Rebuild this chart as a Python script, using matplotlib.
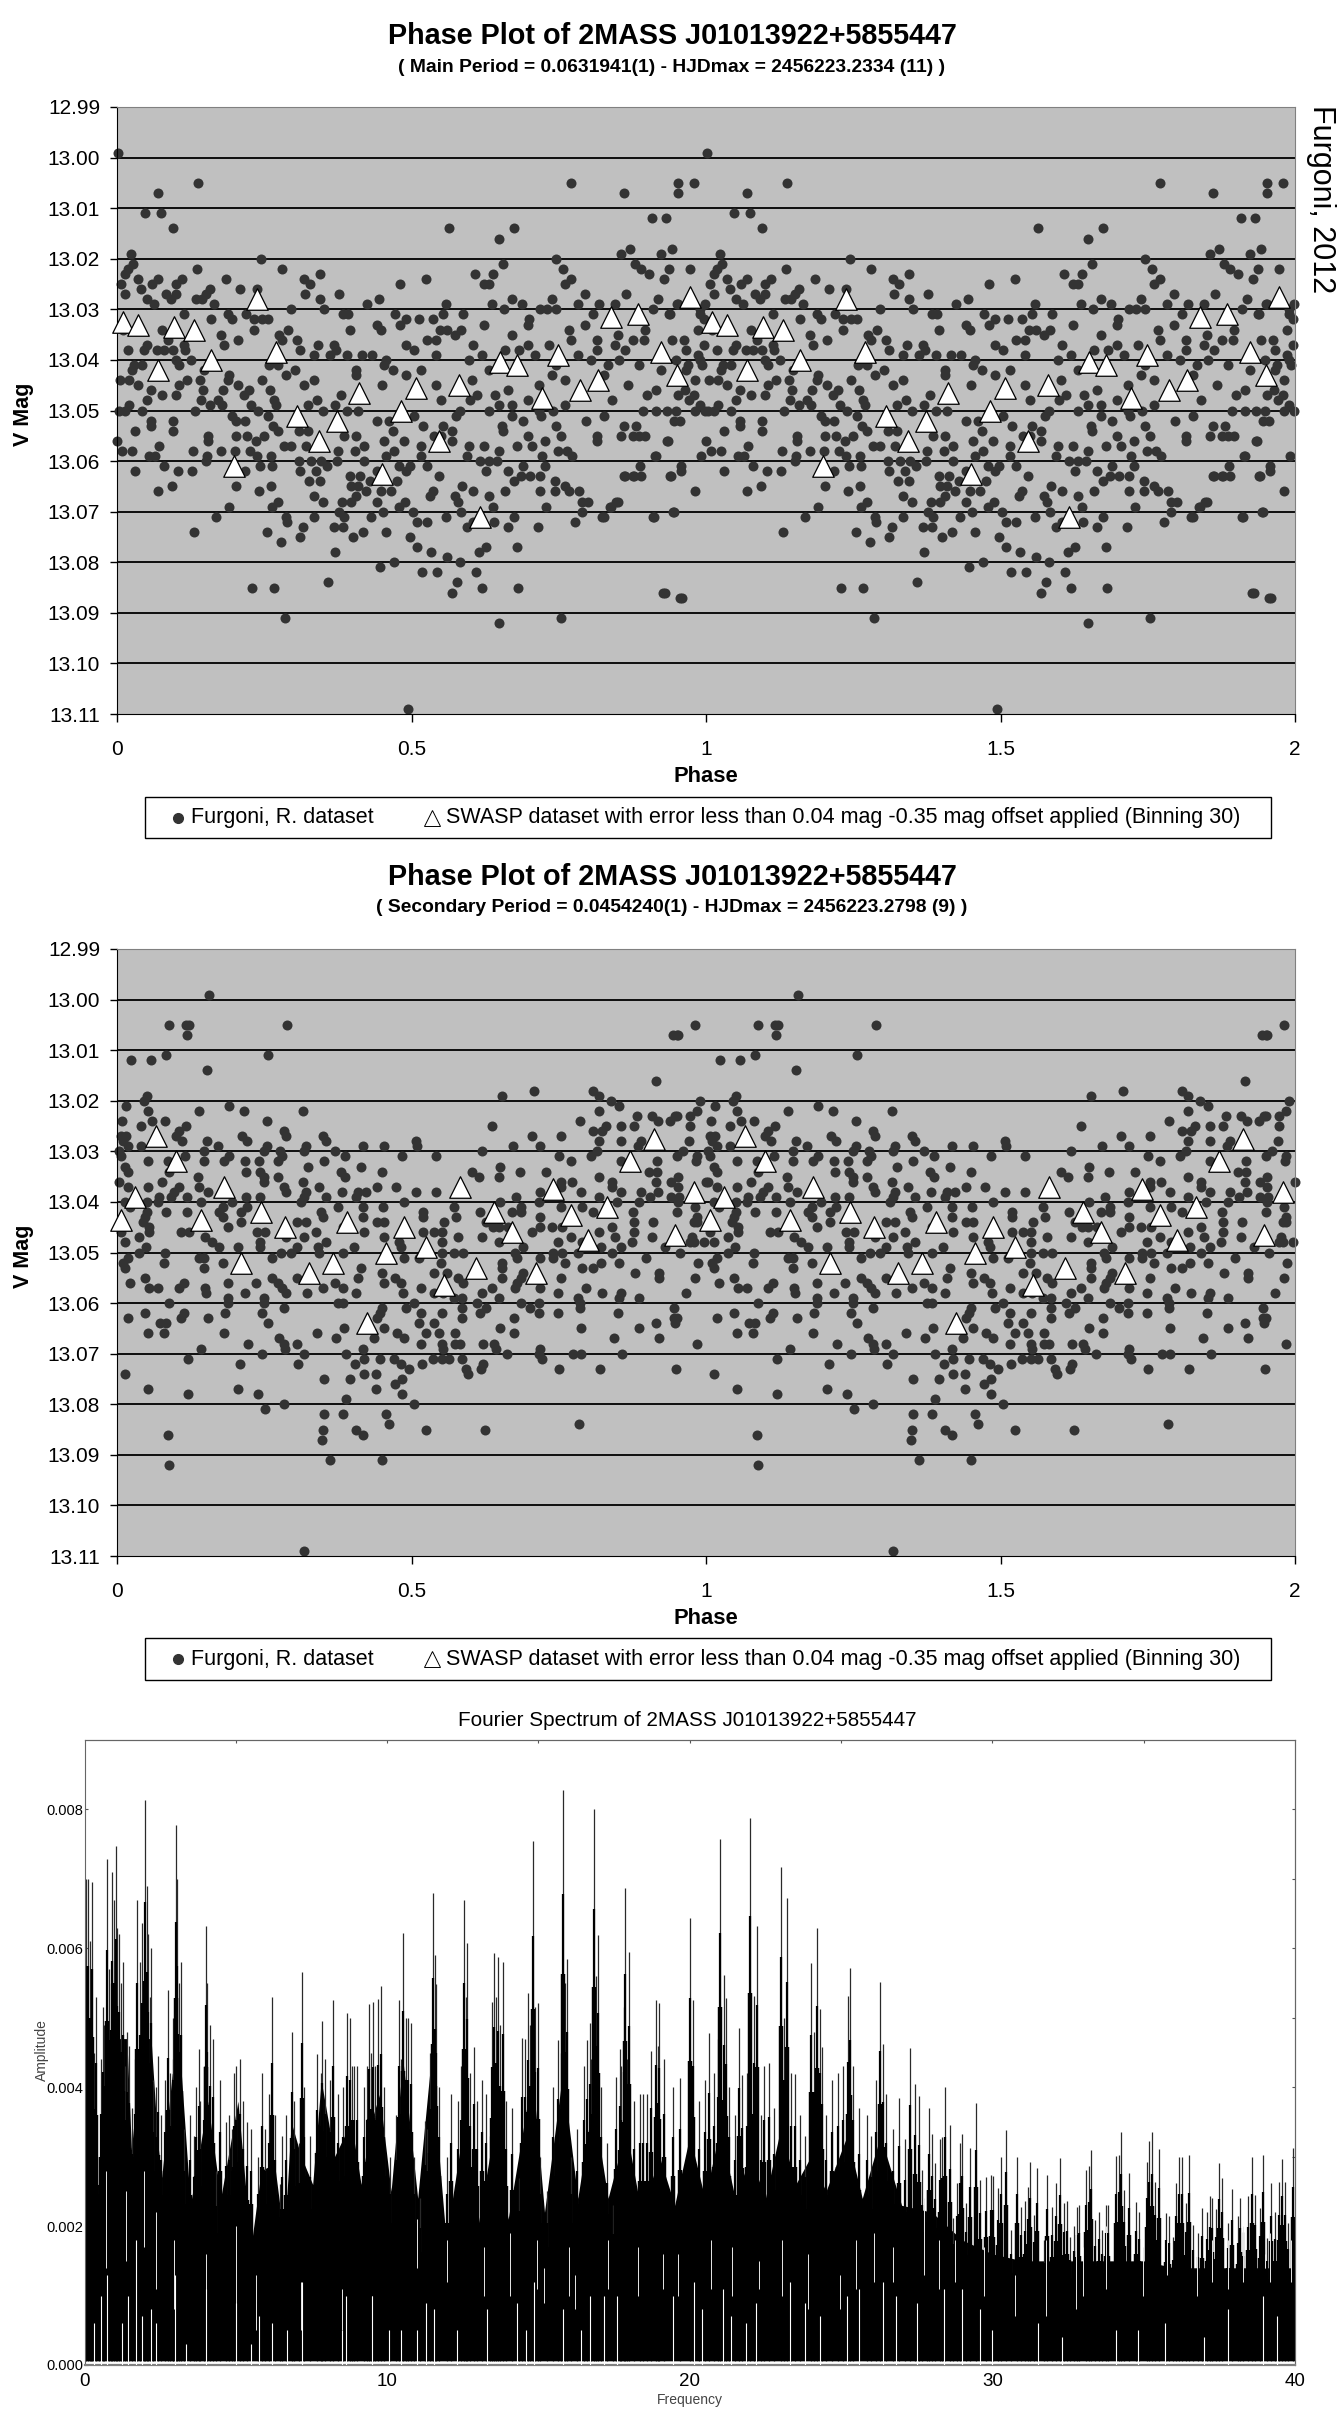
import matplotlib
matplotlib.use("Agg")
import matplotlib.pyplot as plt
import numpy as np
from matplotlib.lines import Line2D
from matplotlib.patches import Rectangle

SANS = ['Liberation Sans', 'DejaVu Sans']
plt.rcParams['font.family'] = SANS

# ---------- main-period phase plot: magnitude levels and the phases seen at each ----------
main_levels = [12.999,13.005,13.007,13.011,13.012,13.014,13.016,13.018,13.019,13.020,13.021,13.022,13.023,13.024,13.025,13.026,13.027,13.028,13.029,13.030,13.031,13.032,13.033,13.034,13.035,13.036,13.037,13.038,13.039,13.040,13.041,13.042,13.043,13.044,13.045,13.046,13.047,13.048,13.049,13.050,13.051,13.052,13.053,13.054,13.055,13.056,13.057,13.058,13.059,13.060,13.061,13.062,13.063,13.064,13.065,13.066,13.067,13.068,13.069,13.070,13.071,13.072,13.073,13.074,13.075,13.076,13.077,13.078,13.079,13.080,13.081,13.082,13.084,13.085,13.086,13.087,13.091,13.092,13.109]
main_phases = [
[.002],
[.137,.770,.953,.979],
[.070,.860,.952],
[.047,.075],
[.908,.932],
[.095,.564,.674],
[.649],
[.871,.942],
[.023,.855,.923],
[.244,.745],
[.027,.655,.880],
[.018,.135,.280,.758,.937,.889,.973],
[.013,.345,.607,.639,.904],
[.036,.070,.111,.185,.317,.525,.770,.928],
[.006,.060,.100,.328,.481,.623,.632,.761],
[.041,.158,.208,.237],
[.013,.083,.100,.151,.319,.377,.794,.865],
[.051,.092,.134,.145,.345,.671,.445,.738,.919],
[.063,.164,.425,.559,.636,.687,.782,.818,.845,.952,.950,.999],
[.295,.352,.657,.719,.730,.745,.910,.990],
[.188,.219,.383,.392,.472,.553,.588,.113,.808,.939,.938,.990],
[.196,.232,.247,.256,.513,.490,.536,.160,.700,.997],
[.441,.481,.623,.795,.697],
[.010,.077,.233,.291,.396,.448,.549,.560,.584,.767,.897,.987],
[.176,.275,.574,.671,.850],
[.087,.205,.280,.305,.527,.542,.771,.815,.876,.894,.942,.962],
[.051,.114,.181,.341,.369,.490,.605,.698,.734,.845,.997],
[.019,.046,.068,.080,.095,.116,.310,.504,.659,.683,.815,.863,.372,.966],
[.334,.361,.391,.416,.433,.541,.620,.782,.710,.987],
[.125,.101,.597,.457,.804,.852,.949,.990],
[.029,.042,.106,.258,.273,.453,.745,.887,.834,.970,.993],
[.026,.147,.302,.405,.468,.631,.516,.923,.966],
[.191,.287,.405,.490,.738,.826],
[.005,.021,.119,.141,.246,.188,.335,.603,.760,.982],
[.205,.035,.106,.317,.450,.542,.716,.867],
[.058,.146,.180,.224,.259,.664,.915,.964],
[.077,.101,.216,.380,.642,.900,.612,.952,.979],
[.051,.143,.171,.267,.339,.550,.600,.697,.841,.971],
[.020,.158,.178,.228,.270,.324,.370,.649,.671,.760,.990],
[.003,.014,.042,.132,.239,.350,.391,.409,.583,.631,.716,.741,.893,.915,.933,.982,.999,.949],
[.195,.256,.505,.575,.671,.720,.826],
[.057,.095,.202,.217,.442,.461,.690,.797,.945,.956],
[.058,.265,.520,.553,.653,.745,.860,.882],
[.031,.095,.273,.309,.324,.468,.568,.656],
[.154,.202,.221,.250,.386,.405,.538,.550,.697,.753,.815,.856,.897,.876,.886],
[0.,.154,.236,.343,.453,.487,.568,.727,.815,.936,.934],
[.072,.284,.295,.321,.516,.623,.597,.679,.705,.420],
[.009,.025,.129,.177,.201,.225,.376,.404,.471,.649,.749,.764],
[.055,.064,.153,.237,.261,.457,.516,.594,.721,.773,.915,.913,.992],
[.151,.309,.329,.346,.374,.420,.616,.645,.631],
[.080,.243,.264,.357,.479,.498,.527,.690,.727,.888,.958],
[.030,.103,.127,.217,.311,.338,.441,.490,.627,.664,.958],
[.396,.413,.450,.546,.686,.702,.719,.863,.878,.941,.889,.861,.876,.939],
[.326,.345,.429,.476,.674,.743],
[.093,.202,.261,.398,.409,.586,.760],
[.069,.241,.422,.448,.466,.536,.605,.658,.718,.743,.785,.767,.981],
[.335,.405,.531,.574,.631],
[.273,.350,.382,.398,.441,.489,.579,.790,.800,.850,.847],
[.190,.264,.479,.638,.729,.838,.837],
[.377,.451,.503,.584,.790,.945,.944],
[.168,.287,.335,.386,.431,.558,.674,.826,.911,.823,.910],
[.289,.509,.527,.605,.640,.777],
[.315,.369,.383,.594,.664,.714],
[.130,.254,.417,.456],
[.311,.400,.498],
[.278],
[.510,.626,.679],
[.370,.533,.614],
[.560],
[.470,.583],
[.446],
[.518,.544,.610],
[.358,.578],
[.230,.267,.620,.681],
[.568,.930,.927],
[.956,.959],
[.286,.753],
[.649],
[.494],
]
swasp_main_phase = [.010,.035,.097,.130,.070,.160,.237,.270,.306,.374,.411,.483,.507,.580,.651,.679,.721,.749,.786,.817,.839,.884,.924,.951,.973,.343,.450,.547,.199,.617]
swasp_main_mag = [13.0325,13.033,13.0335,13.034,13.042,13.040,13.028,13.0385,13.051,13.052,13.0465,13.050,13.0455,13.045,13.0405,13.041,13.0475,13.039,13.046,13.044,13.0315,13.031,13.0385,13.043,13.0275,13.056,13.0625,13.056,13.061,13.071]

# ---------- secondary-period phase plot ----------
sec_levels = [12.999,13.005,13.007,13.011,13.012,13.014,13.016,13.018,13.019,13.020,13.021,13.022,13.023,13.024,13.025,13.026,13.027,13.028,13.029,13.030,13.031,13.032,13.033,13.034,13.035,13.036,13.037,13.038,13.039,13.040,13.041,13.042,13.043,13.044,13.045,13.046,13.047,13.048,13.049,13.050,13.051,13.052,13.053,13.054,13.055,13.056,13.057,13.058,13.059,13.060,13.061,13.062,13.063,13.064,13.065,13.066,13.067,13.068,13.069,13.070,13.071,13.072,13.073,13.074,13.075,13.076,13.077,13.078,13.079,13.080,13.081,13.082,13.084,13.085,13.086,13.087,13.091,13.092,13.109]
sec_phases = [
[.157],
[.089,.117,.123,.288,.982],
[.118,.952,.944,.950],
[.084,.256],
[.023,.057],
[.153],
[.915],
[.708,.808],
[.654,.819,.051],
[.046,.838,.990],
[.016,.190,.852],
[.140,.216,.315,.052,.819,.984],
[.883,.908,.951,.973,.947],
[.009,.060,.082,.254,.786,.919,.939],
[.040,.117,.637,.830,.855,.877,.973],
[.106,.284,.808,.823],
[.007,.016,.101,.213,.350,.287,.705,.753],
[.010,.110,.153,.221,.355,.507,.819,.855,.889,.971],
[.018,.040,.171,.254,.321,.418,.453,.509,.673,.719,.884],
[.003,.148,.250,.317,.276,.370,.620,.815,.961],
[.007,.116,.191,.280,.387,.484,.542,.751,.804,.951,.984],
[.053,.086,.148,.182,.217,.241,.274,.352,.771,.855,.917,.983],
[.014,.324,.414,.651],
[.018,.088,.219,.243,.380,.450,.603,.684,.729,.904,.917],
[.137,.250,.273,.387,.615,.649,.819,.953],
[.004,.077,.249,.315,.841,.915,.941,.753,.773,1.0],
[.019,.053,.106,.140,.284,.343,.442,.473,.753,.841,.952],
[.154,.097,.287,.321,.382,.409,.422,.507,.541,.719,.788,.856,.889,.919],
[.072,.119,.092,.219,.243,.317,.354,.678,.819,.905,.941,.405,.954],
[.014,.051,.196,.143,.313,.069,.487,.651,.716,.849,.886,.952],
[.022,.180,.221,.376,.417,.451,.572,.686,.753,.790,.981],
[.051,.084,.119,.173,.210,.346,.520,.616,.671,.686,.808,.876,.951],
[.047,.180,.350,.418,.520,.575,.719,.984],
[.044,.210,.306,.321,.442,.453,.555,.626,.878,.910,.984,.979],
[.055,.188,.383,.638,.649,.841,.664,.719,.738,.756],
[.007,.055,.108,.123,.237,.252,.338,.420,.520,.538,.552,.705,.819,.878],
[.038,.150,.287,.317,.453,.579,.620,.771,.845,.908,.976],
[.013,.162,.243,.355,.479,.552,.649,.749,.790,.874,.979,.996,.973],
[.049,.173,.206,.243,.341,.402,.306,.483,.690,.821,.856,.930],
[.038,.082,.278,.296,.343,.383,.572,.588,.552,.675,.741,.756,.782,.841,.956],
[.018,.140,.147,.263,.487,.513,.719,.741,.679,.898],
[.010,.080,.180,.550,.653,.821,.760,.852,.986],
[.014,.147,.414,.653,.790,.808],
[.450,.538,.560,.690,.880,.920],
[.047,.263,.306,.409,.472,.579,.653,.686,.753,.921,.981],
[.022,.114,.188,.236,.273,.370,.453,.483,.588,.679],
[.055,.069,.106,.150,.280,.350,.383,.516,.637,.676,.719,.797],
[.151,.217,.287,.323,.405,.485,.538,.553,.823,.966,.856,.620,.749],
[.188,.250,.573,.586,.649,.782,.886,.852],
[.089,.188,.250,.376,.383,.505,.612,.686,.716,.786],
[.284,.450,.490,.627,.701,.786,.945,.586],
[.047,.114,.184,.247,.446,.516,.552,.616,.716,.749,.851],
[.019,.108,.154,.442,.585,.674,.945,.950],
[.073,.084,.256,.513,.538,.915,.947],
[.386,.453,.651,.787,.886],
[.052,.080,.181,.339,.476,.524,.546,.574,.674],
[.275,.372,.436,.487,.843,.921],
[.222,.284,.306,.516,.552,.574,.583,.621,.640,.985],
[.142,.285,.553,.417,.719,.643],
[.247,.317,.388,.662,.716,.775,.788,.857],
[.120,.420,.446,.470,.537,.552,.563,.586,.721],
[.208,.308,.404,.483,.518,.621],
[.496,.592,.618,.751,.820,.949],
[.014,.419,.439,.596],
[.352,.396,.484],
[.472],
[.053,.205,.440],
[.121,.239,.484],
[.388],
[.283,.505],
[.251],
[.352,.383,.457],
[.462,.784],
[.349,.405,.525,.625],
[.086,.418],
[.348],
[.361,.450],
[.088],
[.317],
]
swasp_sec_phase = [.006,.030,.066,.100,.143,.181,.210,.245,.285,.326,.367,.391,.424,.457,.488,.524,.555,.583,.609,.640,.671,.711,.741,.771,.799,.832,.871,.911,.947,.979]
swasp_sec_mag = [13.0436,13.039,13.027,13.032,13.0435,13.037,13.052,13.042,13.045,13.054,13.052,13.044,13.064,13.050,13.045,13.049,13.0565,13.037,13.053,13.042,13.046,13.054,13.0375,13.0425,13.0475,13.041,13.032,13.0275,13.0465,13.038]

# ---------- Fourier spectrum ----------
peak_freq = [.06,.11,.26,.19,.39,.6,.73,.82,.92,1.03,1.15,1.26,1.4,1.75,1.89,2.0,2.11,2.21,2.42,2.75,2.91,3.01,3.2,3.77,4.02,4.16,4.49,4.76,5.02,5.15,5.5,5.87,6.21,6.53,6.86,7.2,7.67,7.86,8.22,8.69,8.78,8.9,9.41,9.54,9.7,9.8,10.4,10.54,10.69,10.8,11.26,11.52,11.62,12.54,12.64,12.87,13.13,13.46,13.54,13.66,13.82,14.46,14.66,14.82,14.9,14.98,15.64,15.82,15.95,16.6,16.69,16.83,16.97,17.85,17.99,17.82,18.87,19.0,19.67,18.72,17.57,17.69,18.44,
20.0,20.1,20.65,21.0,21.12,21.21,21.64,21.73,22.0,22.12,22.22,22.62,23.0,23.23,23.49,24.01,24.22,24.3,24.38,25.22,25.29,26.3,26.37,26.92]
peak_amp = [.0070,.0070,.00695,.0061,.0053,.00515,.00728,.0057,.0071,.00748,.0062,.0058,.0048,.0067,.00636,.00813,.0062,.006,.00445,.0054,.005,.00778,.0058,.00455,.00632,.0049,.0041,.0036,.0043,.0044,.0034,.0042,.0053,.0033,.0048,.00566,.00448,.00496,.00525,.00507,.005,.0043,.0052,.00523,.00527,.00546,.00525,.00622,.005,.00493,.00352,.0068,.00548,.0067,.00607,.00458,.0041,.00523,.00593,.00587,.00581,.00471,.00536,.00754,.00515,.00521,.00468,.00828,.00584,.00468,.00493,.008,.00619,.00687,.00595,.00515,.00526,.00521,.00414,.00452,.00415,.00455,.0039,
.00644,.00525,.00478,.00758,.00562,.00528,.00486,.00417,.00788,.00531,.00632,.00435,.00717,.00673,.00419,.00579,.0063,.00513,.00458,.00532,.00571,.00552,.00462,.00385]
mid_freq = [.22,.33,.47,.53,.65,.88,.98,1.09,1.22,1.35,1.46,1.58,1.68,1.82,1.95,2.05,2.15,2.27,2.37,2.54,2.67,2.83,2.94,3.07,3.13,3.3,3.49,3.62,3.7,3.83,3.95,4.06,4.23,4.33,4.66,4.88,4.95,5.24,5.38,5.74,5.95,6.1,6.31,6.46,6.67,6.93,7.1,7.25,7.46,7.82,7.96,8.11,8.39,8.54,8.85,9.0,9.23,9.33,9.47,9.61,9.9,10.11,10.29,10.47,10.62,10.9,11.09,11.33,11.43,11.59,11.72,11.98,12.12,12.34,12.44,12.6,12.74,12.98,13.27,13.41,13.6,13.73,13.92,14.13,14.35,14.56,14.73,15.06,15.28,15.49,15.74,15.88,16.07,16.26,16.5,16.74,16.89,17.07,17.26,17.46,17.72,17.93,18.15,18.36,18.58,18.94,19.15,19.44,
20.3,20.5,20.8,20.95,21.3,21.5,21.9,22.35,22.45,22.8,23.1,23.35,23.65,23.8,24.1,24.5,24.7,24.9,25.05,25.4,25.6,25.85,26.0,26.15,26.5,26.7]
mid_amp = [.0052,.0045,.003,.0044,.0049,.0055,.0067,.0063,.0055,.0043,.0046,.0037,.0044,.0058,.0055,.0069,.0053,.0041,.004,.0036,.0041,.0042,.0044,.007,.0055,.0034,.0036,.0033,.004,.0038,.0043,.0055,.0047,.0028,.0035,.0034,.0042,.0038,.0035,.003,.0034,.0039,.0036,.0026,.0036,.0038,.0032,.004,.0033,.0042,.0044,.0041,.0039,.004,.0043,.0043,.004,.0043,.0045,.0043,.004,.003,.0036,.0044,.005,.003,.0024,.0034,.0045,.0059,.004,.003,.0039,.0038,.0043,.0053,.0042,.0038,.0039,.0033,.0053,.0049,.0038,.0037,.0027,.0047,.0049,.003,.0025,.004,.0045,.0055,.003,.0034,.0043,.0044,.0056,.004,.0032,.0023,.0043,.0044,.0038,.0039,.0039,.0046,.0044,.004,
.0038,.0041,.0042,.0047,.004,.0036,.0042,.0036,.0043,.0037,.005,.0042,.0036,.0033,.0048,.0036,.0041,.0042,.0043,.0043,.0037,.0036,.0033,.0041,.0039,.0034]
fine_freq = [27.12,27.28,27.45,27.59,27.67,27.83,27.91,28.01,28.11,28.27,28.35,28.45,28.6,28.71,28.82,28.92,29.0,29.13,29.27,29.45,29.6,29.79,29.95,30.01,30.17,30.28,30.46,30.62,30.8,30.94,31.09,31.17,31.25,31.38,31.47,31.69,31.81,31.97,32.09,32.25,32.37,32.48,32.58,32.71,32.79,32.87,33.08,33.19,33.25,33.39,33.51,33.61,33.74,33.83,34.09,34.19,34.24,34.35,34.5,34.73,34.85,35.1,35.18,35.26,35.37,35.5,35.74,35.85,35.98,36.08,36.18,36.27,36.4,36.51,36.64,36.81,36.92,37.1,37.19,37.27,37.39,37.49,37.59,37.8,37.93,38.1,38.19,38.29,38.46,38.57,38.68,38.83,38.94,39.06,39.2,39.34,39.46,39.58,39.67,39.78,39.95]
fine_amp = [.00325,.00457,.00404,.00387,.00281,.00252,.0037,.00332,.00291,.00325,.00329,.00401,.00345,.00212,.00262,.0032,.00332,.00233,.00313,.00377,.00267,.00271,.00273,.00272,.00255,.003,.00339,.00195,.003,.00228,.00236,.00257,.00293,.00216,.00284,.0018,.00274,.00228,.00262,.00298,.00233,.00236,.00185,.002,.00228,.00231,.00281,.00286,.00309,.00209,.00221,.00195,.00231,.00231,.00301,.00303,.00336,.00252,.00276,.00235,.00221,.00293,.00322,.00336,.00264,.00311,.00219,.00214,.00185,.00262,.003,.003,.00233,.00302,.00202,.0019,.00226,.00221,.00243,.0024,.00224,.00291,.00269,.00205,.00254,.00214,.0024,.00192,.00243,.003,.00245,.00226,.00303,.00183,.00262,.00221,.00264,.00296,.00263,.00204,.00313]
body_freq = [0,.2,.35,.55,.9,1.4,1.55,1.9,2.2,2.42,2.55,2.9,3.2,3.5,4.07,4.5,5.07,5.5,5.84,6.28,6.6,6.83,7.16,7.54,7.82,8.26,8.81,9.14,9.47,9.75,10.13,10.52,11.01,11.45,11.95,12.44,13,13.5,14,14.8,15.2,15.8,16.3,16.8,17.3,17.9,18.4,19,19.5,20,20.5,21,21.5,22,22.5,23,23.5,24,24.5,25.2,25.7,26.3,27,28,29,30,31,32,33,34,35,36,37,38,39,40]
body_top = [.0055,.0047,.0026,.0026,.0047,.0047,.0031,.0047,.0047,.0032,.0027,.0042,.0042,.0023,.0038,.0024,.0038,.0017,.0028,.0029,.0018,.0035,.003,.0026,.0041,.003,.0035,.0026,.0035,.0039,.0025,.0044,.0024,.0044,.0018,.0032,.0020,.0033,.0021,.0042,.0022,.0042,.0024,.0038,.0024,.0034,.0022,.0030,.0023,.0033,.0024,.0034,.0024,.0030,.0024,.0034,.0026,.0030,.0025,.0033,.0024,.0033,.0023,.0022,.0018,.0016,.0015,.0015,.0015,.0015,.0015,.0014,.0014,.0014,.0014,.0014]
gap_freq = [.3,.55,.75,1.25,1.45,1.7,1.9,2.2,2.35,3.0,3.35,4.0,5.0,5.5,5.75,6.2,6.7,7.2,8.5,8.65,9.5,10.05,10.45,11.0,11.3,11.55,12.3,13.3,14.3,14.85,14.6,15.8,16.4,16.7,17.15,17.6,19.45,20.15,20.4,21.1,21.35,21.85,22.2,23.3,23.8,24.3,25.6,25.2,26.4,26.8,27.5,28.4,29.0,29.6,30.0,31.5,32.3,34.1,34.8,35.7,37.0,37.8,38.95,39.4]
gap_amp = [.0006,.001,.0013,.0006,.001,.0018,.0007,.0008,.0006,.0013,.0003,.0011,.0009,.0003,.0007,.0006,.0005,.0012,.0005,.001,.001,.0005,.0005,.0005,.0009,.0008,.0005,.0008,.0009,.0012,.0005,.0008,.0005,.001,.001,.001,.001,.0012,.0008,.0011,.0007,.0006,.0009,.0012,.0009,.0007,.0011,.001,.0012,.001,.0009,.0011,.0011,.0008,.0005,.0006,.0004,.0005,.0005,.0006,.0004,.0008,.001,.0007]
slit_freq = [.72,1.38,1.98,2.37,2.97,4.0,4.99,5.67,7.16,8.5,9.49,10.99,11.98,13.2,14.05,14.95,15.2,16.0,16.2,17.3,18.3,19.1,19.6,20.7,21.4,22.3,23.05,23.9,24.95,25.5,26.1,26.7,27.74,28.22,28.75,29.73,30.75,31.77,32.77,33.0,33.76,34.99,35.76,36.75,37.25,37.78,38.29,39.0,39.17,39.86]
slit_low = [.0014,.0015,.0017,.0011,.0008,.0007,.0005,.0005,.0005,.0005,.0005,.0014,.0012,.001,.001,.0011,.0009,.001,.0008,.0011,.001,.0011,.001,.0011,.001,.0011,.001,.0008,.0008,.0011,.0012,.0012,.0013,.0011,.0012,.001,.0007,.0007,.0008,.001,.0011,.001,.0013,.001,.0012,.0011,.0012,.0014,.0012,.0012]
slit_high = [.0028,.0025,.0028,.0022,.0018,.0016,.002,.0013,.0012,.0011,.001,.0021,.0018,.0017,.0019,.0018,.0014,.0017,.0013,.0018,.0017,.0016,.0016,.0018,.0017,.0015,.0018,.0016,.0013,.0018,.0019,.0017,.0024,.0018,.0018,.0017,.0013,.0018,.0019,.0017,.002,.0017,.0018,.0017,.0018,.0018,.002,.0016,.0019,.0018]

mag_ticks = [12.99 + 0.01 * i for i in range(13)]
phase_ticks = [0, 0.5, 1, 1.5, 2]
freq_labels = [0, 10, 20, 30, 40]
freq_top = [5, 10, 15, 20, 25, 30, 35]
amp_labels = [0, .002, .004, .006, .008]
amp_right = [.001, .002, .003, .004, .005, .006, .007, .008]

W, H = 1344, 2421
fig = plt.figure(figsize=(W / 100, H / 100), dpi=100, facecolor='white')


def rect(l, t, r, b):
    return [l / W, 1 - b / H, (r - l) / W, (b - t) / H]


def ftext(x, y, s, **kw):
    kw.setdefault('ha', 'center')
    kw.setdefault('va', 'center')
    fig.text(x / W, 1 - y / H, s, **kw)


def flatten(levels, phases):
    p = np.concatenate([np.array(r, float) for r in phases])
    m = np.concatenate([np.full(len(r), l) for l, r in zip(levels, phases)])
    return np.r_[p, p + 1], np.r_[m, m]


def phase_axes(top, bottom, levels, phases, sw_p, sw_m, sub, title_y, sub_y, leg_top, leg_bottom, right_note):
    ax = fig.add_axes(rect(117, top, 1295, bottom), facecolor='#C0C0C0')
    ax.set_xlim(0, 2)
    ax.set_ylim(13.11, 12.99)
    ax.set_yticks(mag_ticks)
    ax.set_yticklabels([f'{v:.2f}' for v in mag_ticks], fontsize=15)
    ax.set_xticks(phase_ticks)
    ax.set_xticklabels(['0', '0.5', '1', '1.5', '2'], fontsize=15)
    ax.tick_params(axis='y', length=4.7, width=1, pad=7.5)
    ax.tick_params(axis='x', length=5.8, width=1, pad=13)
    for v in mag_ticks[1:-1]:
        ax.axhline(v, color='black', lw=1.3, zorder=1)
    for s in ['top', 'right']:
        ax.spines[s].set_color('#808080')
    for s in ['left', 'bottom']:
        ax.spines[s].set_color('black')
    px, pm = flatten(levels, phases)
    ax.scatter(px, pm, s=52, color='#333333', linewidths=0, zorder=2, clip_on=False)
    sp = np.array(sw_p)
    ax.scatter(np.r_[sp, sp + 1], np.r_[sw_m, sw_m], marker='^', s=240, facecolor='white',
               edgecolor='black', linewidths=0.9, zorder=3, clip_on=False)
    ftext(672, title_y, 'Phase Plot of 2MASS J01013922+5855447', fontweight='bold', fontsize=20.7)
    ftext(672, sub_y, sub, fontweight='bold', fontsize=13.9)
    ftext(23.5, (top + bottom) / 2 + 4, 'V Mag', rotation=90, fontweight='bold', fontsize=15.5)
    ftext(706, bottom + 62, 'Phase', fontweight='bold', fontsize=15.8)
    # legend box, keys and labels
    fig.add_artist(Rectangle((144.5 / W, 1 - leg_bottom / H), 1126.5 / W, (leg_bottom - leg_top) / H,
                             transform=fig.transFigure, facecolor='white', edgecolor='black', lw=1.0))
    mid = (leg_top + leg_bottom) / 2
    fig.add_artist(Line2D([178 / W], [1 - mid / H], transform=fig.transFigure, ls='', marker='o',
                          ms=7, mfc='#333333', mec='#333333'))
    fig.add_artist(Line2D([432 / W], [1 - mid / H], transform=fig.transFigure, ls='', marker='^',
                          ms=11, mfc='white', mec='black', mew=0.7))
    ftext(191, mid, 'Furgoni, R. dataset', ha='left', fontsize=15.5)
    ftext(446, mid, 'SWASP dataset with error less than 0.04 mag -0.35 mag offset applied (Binning 30)',
          ha='left', fontsize=15.5)
    if right_note:
        ftext(1321, 199, 'Furgoni, 2012', rotation=270, fontsize=22)
    return ax


phase_axes(107, 714, main_levels, main_phases, swasp_main_phase, swasp_main_mag,
           '( Main Period = 0.0631941(1) - HJDmax = 2456223.2334 (11) )',
           36, 68, 797, 838, True)
phase_axes(949, 1556, sec_levels, sec_phases, swasp_sec_phase, swasp_sec_mag,
           '( Secondary Period = 0.0454240(1) - HJDmax = 2456223.2798 (9) )',
           877, 908, 1638, 1680, False)

ax3 = fig.add_axes(rect(84.5, 1740, 1295, 2365))
ax3.set_xlim(0, 40)
ax3.set_ylim(0, 0.009)
ax3.fill_between(body_freq, 0.00006, body_top, color='black', lw=0, zorder=1)
all_freq = np.r_[peak_freq, mid_freq, fine_freq]
all_amp = np.r_[peak_amp, mid_amp, fine_amp]
ax3.vlines(all_freq, 0.00006, all_amp, color='#2a2a2a', lw=0.9, zorder=2)
ax3.vlines(all_freq, 0.00006, all_amp * 0.82, color='black', lw=1.6, zorder=2)
ax3.vlines(all_freq, 0.00006, all_amp * 0.68, color='black', lw=3.2, zorder=2)
ax3.vlines(slit_freq, slit_low, slit_high, color='#e8e8e8', lw=0.7, zorder=3)
ax3.vlines(gap_freq, 0, gap_amp, color='white', lw=0.8, zorder=3)
ax3.set_xticks(freq_labels)
ax3.set_xticklabels([str(v) for v in freq_labels], fontsize=13.5)
ax3.set_yticks(amp_labels)
ax3.set_yticklabels([f'{v:.3f}' for v in amp_labels], fontsize=10.5)
ax3.tick_params(axis='x', length=0, pad=6)
ax3.tick_params(axis='y', length=2, direction='in', color='#555555', pad=1)
top3 = ax3.secondary_xaxis('top')
top3.set_xticks(freq_top)
top3.set_xticklabels([])
top3.tick_params(length=2, direction='in', color='#555555')
right3 = ax3.secondary_yaxis('right')
right3.set_yticks(amp_right)
right3.set_yticklabels([])
right3.tick_params(length=2, direction='in', color='#555555')
for s in ['top', 'left', 'right']:
    ax3.spines[s].set_color('#666666')
ax3.spines['bottom'].set_color('#808080')
ax3.spines['bottom'].set_linewidth(1.6)
for sp in [top3, right3]:
    for s in sp.spines.values():
        s.set_color('#666666')
ftext(687, 1721, 'Fourier Spectrum of 2MASS J01013922+5855447', fontsize=14.9)
ftext(42, 2050, 'Amplitude', rotation=90, fontsize=10, color='#444444')
ftext(690, 2400, 'Frequency', fontsize=10, color='#444444')

fig.savefig('out.png', dpi=100)
